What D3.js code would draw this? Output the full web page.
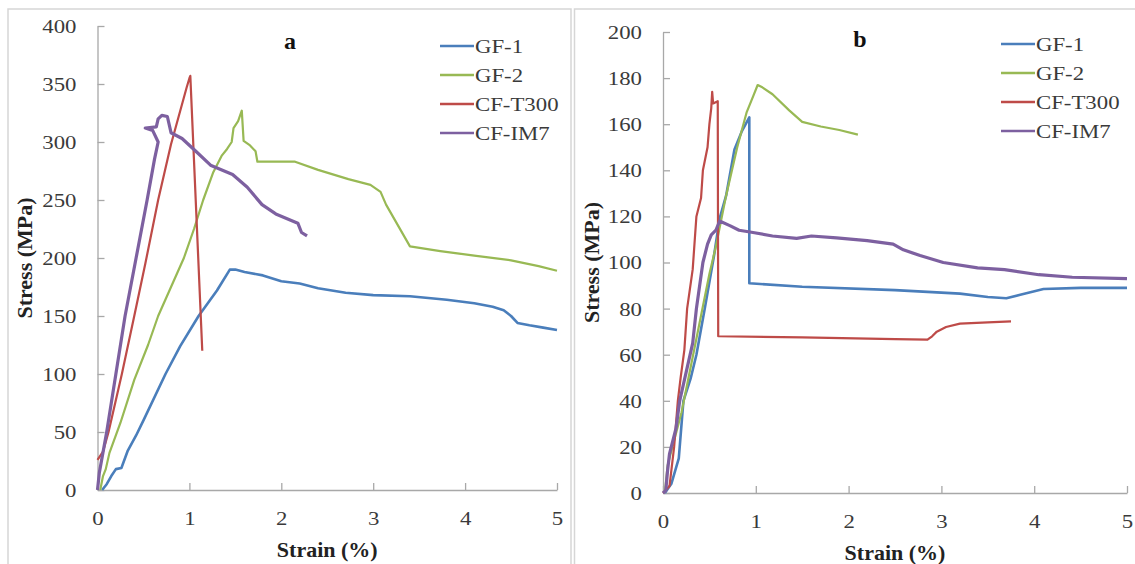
<!DOCTYPE html>
<html>
<head>
<meta charset="utf-8">
<script src="https://cdn.jsdelivr.net/npm/d3@7"></script>
<style>
    body { margin: 0; background: #fff; }
    svg { display: block; }
    svg text { font-family: "Liberation Serif", "DejaVu Serif", serif !important; }
</style>
</head>
<body>
<svg id="chart" width="1135" height="564"></svg>
<script>
const seriesNames = ['GF-1', 'GF-2', 'CF-T300', 'CF-IM7'];
const strainTicks = [0, 1, 2, 3, 4, 5];
const stressTicksA = [0, 50, 100, 150, 200, 250, 300, 350, 400];
const stressTicksB = [0, 20, 40, 60, 80, 100, 120, 140, 160, 180, 200];

// panel a : [strain %, stress MPa]
const gf1A = [[0.05, 0], [0.1, 5], [0.15, 12], [0.2, 18], [0.26, 19], [0.33, 34], [0.42, 47], [0.5, 60],
    [0.74, 100], [0.9, 124], [1.1, 150], [1.3, 172], [1.44, 190], [1.5, 190], [1.6, 188], [1.8, 185],
    [2.0, 180], [2.2, 178], [2.4, 174], [2.7, 170], [3.0, 168], [3.4, 167], [3.8, 164], [4.1, 161],
    [4.3, 158], [4.42, 155], [4.5, 150], [4.57, 144], [4.7, 142], [4.85, 140], [5.0, 138]];
const gf2A = [[0.03, 0], [0.06, 12], [0.09, 18], [0.13, 32], [0.25, 58], [0.4, 95], [0.55, 125],
    [0.66, 150], [0.8, 175], [0.94, 200], [1.05, 225], [1.15, 250], [1.26, 274], [1.35, 288],
    [1.41, 294], [1.46, 300], [1.48, 312], [1.53, 318], [1.57, 327], [1.59, 301], [1.66, 297],
    [1.72, 292], [1.74, 283], [2.15, 283], [2.4, 276], [2.73, 268], [2.97, 263], [3.08, 257],
    [3.14, 246], [3.4, 210], [3.73, 206], [4.1, 202], [4.5, 198], [4.8, 193], [5.0, 189]];
const t300A = [[0.0, 26], [0.06, 33], [0.12, 50], [0.265, 100], [0.4, 150], [0.52, 195], [0.66, 250],
    [0.8, 298], [0.97, 347], [1.0, 355], [1.01, 357], [1.14, 120]];
const im7A = [[0.0, 0], [0.02, 15], [0.1, 50], [0.2, 100], [0.3, 150], [0.42, 200], [0.54, 250],
    [0.62, 285], [0.66, 300], [0.6, 310], [0.52, 312], [0.64, 313], [0.66, 320], [0.7, 323],
    [0.76, 322], [0.8, 308], [0.92, 303], [1.07, 292], [1.23, 280], [1.47, 272], [1.63, 261],
    [1.79, 246], [1.94, 238], [2.18, 230], [2.22, 222], [2.28, 219]];

// panel b
const gf1B = [[0.02, 0], [0.09, 4], [0.17, 15], [0.22, 40], [0.3, 50], [0.36, 60], [0.45, 80],
    [0.55, 103], [0.61, 119], [0.68, 129], [0.77, 149], [0.85, 157], [0.93, 163], [0.93, 91],
    [1.5, 89.5], [2.5, 88], [3.2, 86.5], [3.5, 85], [3.7, 84.5], [3.85, 86], [4.1, 88.5], [4.5, 89],
    [5.0, 89]];
const gf2B = [[0.02, 0], [0.05, 12], [0.2, 35], [0.35, 65], [0.5, 95], [0.57, 107], [0.68, 129],
    [0.8, 150], [0.9, 165], [0.97, 172], [1.02, 177], [1.07, 176], [1.18, 173], [1.36, 166],
    [1.5, 161], [1.7, 159], [1.9, 157.5], [2.1, 155.5]];
const t300B = [[0.0, 0], [0.07, 3], [0.12, 20], [0.16, 40], [0.19, 50], [0.23, 62], [0.26, 80],
    [0.32, 97], [0.36, 120], [0.41, 128], [0.43, 140], [0.48, 150], [0.5, 160], [0.52, 167],
    [0.53, 174], [0.54, 169], [0.59, 170], [0.595, 68], [1.5, 67.5], [2.5, 66.8], [2.85, 66.5],
    [2.9, 68], [2.95, 70], [3.05, 72], [3.2, 73.5], [3.5, 74], [3.75, 74.5]];
const im7B = [[0.0, 0], [0.03, 1], [0.05, 10], [0.07, 17], [0.14, 28], [0.18, 40], [0.32, 65],
    [0.36, 80], [0.43, 100], [0.48, 108], [0.52, 112], [0.57, 114], [0.61, 118], [0.72, 116],
    [0.82, 114], [0.97, 113], [1.18, 111.5], [1.44, 110.5], [1.6, 111.5], [1.87, 110.7], [2.2, 109.5],
    [2.48, 108], [2.59, 105.5], [2.77, 103], [3.02, 100], [3.39, 97.7], [3.68, 96.9], [4.05, 94.7],
    [4.41, 93.6], [5.0, 93]];

const colors = ['#4a7ebb', '#98b954', '#be4b48', '#7d60a0'];
const widths = [2.6, 2.2, 2.2, 3.2];
const serif = '"Liberation Serif", "DejaVu Serif", serif';

let svg = d3.select('#chart');

function drawPanel(opts) {
    let g = svg.append('g');

    // panel frame
    g.append('rect')
        .attr('x', opts.frame[0]).attr('y', opts.frame[1])
        .attr('width', opts.frame[2]).attr('height', 700)
        .attr('fill', 'none').attr('stroke', '#d6d6d6').attr('stroke-width', 1.5);

    let x = d3.scaleLinear().domain([0, 5]).range([opts.left, opts.right]);
    let y = d3.scaleLinear().domain([0, opts.yMax]).range([opts.bottom, opts.top]);

    // y axis, ticks pointing inward
    let yAxis = g.append('g')
        .attr('transform', `translate(${opts.left},0)`)
        .call(d3.axisLeft(y).tickValues(opts.yTicks).tickFormat(d3.format('d'))
            .tickSizeInner(-7).tickSizeOuter(0));
    yAxis.selectAll('text')
        .attr('x', 0).attr('dy', '0.34em')
        .attr('transform', 'translate(-21,0) scale(1.2,1)');

    let xAxis = g.append('g')
        .attr('transform', `translate(0,${opts.bottom})`)
        .call(d3.axisBottom(x).tickValues(strainTicks).tickFormat(d3.format('d'))
            .tickSizeInner(-7).tickSizeOuter(0));
    xAxis.selectAll('text')
        .attr('y', 0).attr('dy', '0.71em')
        .attr('transform', 'translate(0,22) scale(1.2,1)');

    [yAxis, xAxis].forEach(axis => {
        axis.attr('font-family', null).attr('font-size', null);
        axis.selectAll('path, line').attr('stroke', '#a8a8a8').attr('stroke-width', 1.3);
        axis.selectAll('text').attr('fill', '#3a3a3a')
            .style('font-size', '19px').style('font-family', serif);
    });

    let line = d3.line().x(d => x(d[0])).y(d => y(d[1]));
    opts.series.forEach((data, i) => {
        g.append('path')
            .attr('d', line(data))
            .attr('fill', 'none')
            .attr('stroke', colors[i])
            .attr('stroke-width', widths[i])
            .attr('stroke-linejoin', 'round');
    });

    // axis titles
    g.append('text')
        .attr('x', (opts.left + opts.right) / 2).attr('y', opts.bottom + 67)
        .attr('text-anchor', 'middle').attr('fill', '#222')
        .style('font-size', '22px').style('font-weight', 'bold').style('font-family', serif)
        .text('Strain (%)');
    g.append('text')
        .attr('transform', `translate(${opts.yTitleX},${(opts.top + opts.bottom) / 2}) rotate(-90)`)
        .attr('text-anchor', 'middle').attr('fill', '#222')
        .style('font-size', '22px').style('font-weight', 'bold').style('font-family', serif)
        .text('Stress (MPa)');

    g.append('text')
        .attr('x', opts.label[0]).attr('y', opts.label[1])
        .attr('text-anchor', 'middle').attr('fill', '#111')
        .style('font-size', '24px').style('font-weight', 'bold').style('font-family', serif)
        .text(opts.name);

    // legend
    seriesNames.forEach((name, i) => {
        let ly = opts.legend[1] + i * 29;
        g.append('line')
            .attr('x1', opts.legend[0]).attr('x2', opts.legend[0] + 34)
            .attr('y1', ly).attr('y2', ly)
            .attr('stroke', colors[i]).attr('stroke-width', 2.6);
        g.append('text')
            .attr('transform', `translate(${opts.legend[0] + 35},${ly + 6.5}) scale(1.2,1)`)
            .attr('fill', '#3a3a3a')
            .style('font-size', '19px').style('font-family', serif)
            .text(name);
    });
}

drawPanel({
    name: 'a', frame: [8, 9, 563], left: 97.5, right: 557, top: 26, bottom: 490,
    yMax: 400, yTicks: stressTicksA, yTitleX: 32, label: [290, 49], legend: [440, 46],
    series: [gf1A, gf2A, t300A, im7A]
});
drawPanel({
    name: 'b', frame: [574.5, 9, 600], left: 663, right: 1127, top: 32, bottom: 493,
    yMax: 200, yTicks: stressTicksB, yTitleX: 599, label: [860, 47], legend: [1001, 44],
    series: [gf1B, gf2B, t300B, im7B]
});
</script>
</body>
</html>
